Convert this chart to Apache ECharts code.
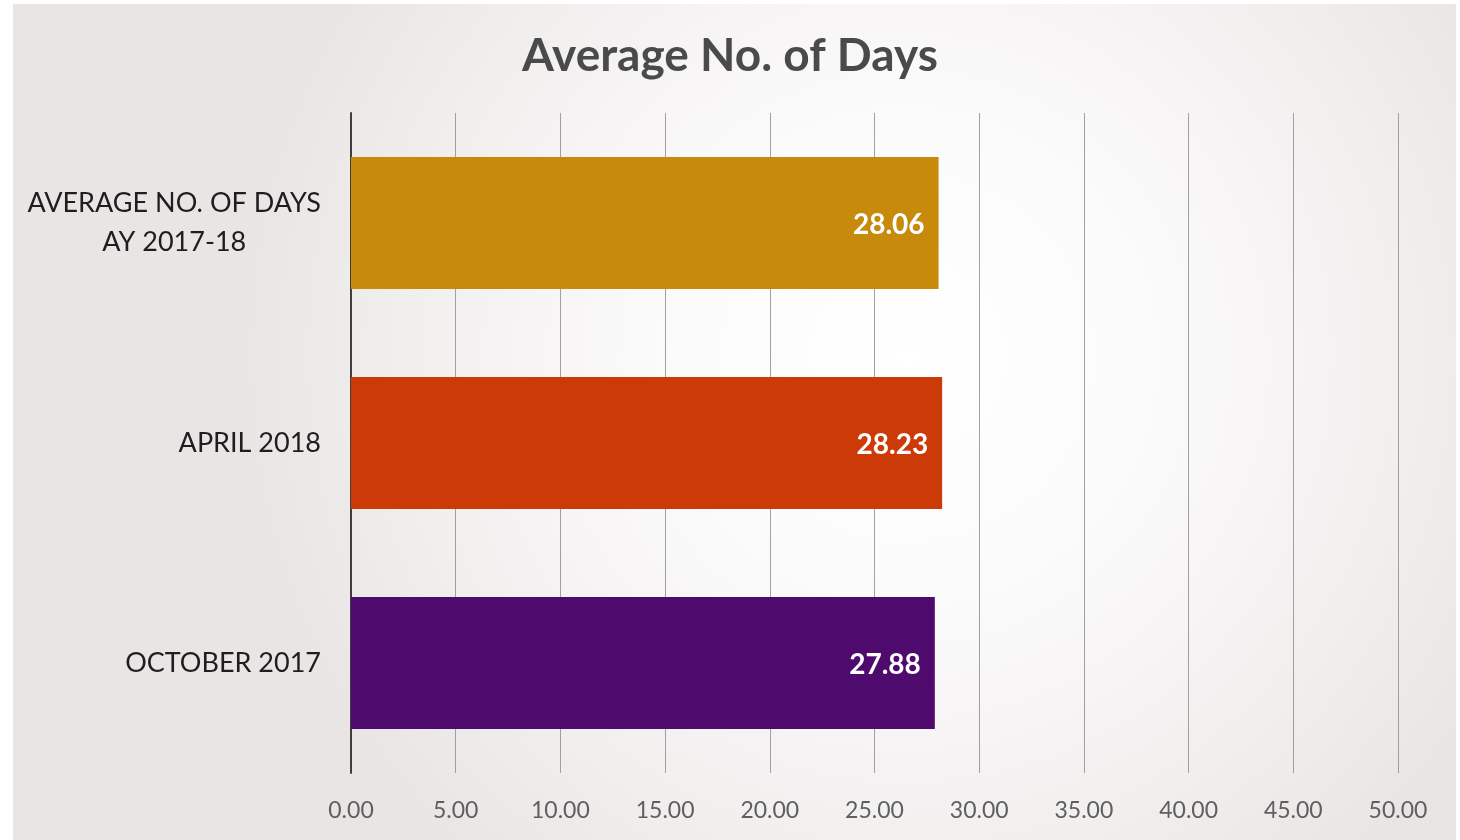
<!DOCTYPE html>
<html>
<head>
<meta charset="utf-8">
<script src="https://cdn.jsdelivr.net/npm/echarts@6/dist/echarts.min.js"></script>
<style>
html,body{margin:0;padding:0;background:#ffffff;}
#chart{width:1460px;height:840px;}
</style>
</head>
<body>
<div id="chart"></div>
<script>
// Data
var categories = ['OCTOBER 2017', 'APRIL 2018', 'AVERAGE NO. OF DAYS\nAY 2017-18'];
var values = [27.88, 28.23, 28.06];
var barColors = ['#4e0a6d', '#cc3a07', '#c78a0b'];
var xTicks = [0, 5, 10, 15, 20, 25, 30, 35, 40, 45, 50];

var FONT = 'Lato';
var catFontSize = 27;

// measure widest line of multi-line labels so lines can be centered
var cv = document.createElement('canvas').getContext('2d');
cv.font = catFontSize + 'px ' + FONT;
var maxLineW = 0;
categories.forEach(function (c) {
  if (c.indexOf('\n') >= 0) {
    c.split('\n').forEach(function (l) { maxLineW = Math.max(maxLineW, cv.measureText(l).width); });
  }
});

var chart = echarts.init(document.getElementById('chart'));
var option = {
  backgroundColor: '#ffffff',
  graphic: [{
    type: 'rect',
    z: -10,
    silent: true,
    shape: { x: 13, y: 4, width: 1443, height: 840 },
    style: {
      fill: {
        type: 'radial', x: 0.62, y: 0.42, r: 0.8,
        colorStops: [
          { offset: 0, color: '#ffffff' },
          { offset: 0.35, color: '#fcfbfb' },
          { offset: 0.75, color: '#f1eeee' },
          { offset: 1, color: '#e9e5e5' }
        ]
      }
    }
  }],
  title: {
    text: 'Average No. of Days',
    left: 'center',
    top: 28,
    textStyle: { fontFamily: FONT, fontWeight: 'bold', fontSize: 46, color: '#4a4a4a' }
  },
  grid: { left: 351, right: 62, top: 113, bottom: 67, containLabel: false },
  xAxis: {
    type: 'value',
    min: 0,
    max: 50,
    interval: 5,
    axisLine: { show: false },
    axisTick: { show: false },
    splitLine: { show: true, lineStyle: { color: '#a0a0a0', width: 1 } },
    axisLabel: {
      margin: 26,
      fontFamily: FONT,
      fontSize: 23,
      color: '#5f5f5f',
      formatter: function (v) { return xTicks.indexOf(v) >= 0 ? v.toFixed(2) : ''; }
    }
  },
  yAxis: {
    type: 'category',
    data: categories,
    axisLine: { show: true, lineStyle: { color: '#3f3f3f', width: 2 } },
    axisTick: { show: false },
    axisLabel: {
      margin: 30,
      fontFamily: FONT,
      fontSize: catFontSize,
      color: '#1e1e1e',
      lineHeight: 39,
      formatter: function (v) {
        if (v.indexOf('\n') >= 0) {
          return v.split('\n').map(function (l) { return '{c|' + l + '}'; }).join('\n');
        }
        return v;
      },
      rich: {
        c: { width: maxLineW, align: 'center', fontFamily: FONT, fontSize: catFontSize, color: '#1e1e1e', lineHeight: 39 }
      }
    }
  },
  series: [{
    type: 'bar',
    data: values.map(function (v, i) { return { value: v, itemStyle: { color: barColors[i] } }; }),
    barWidth: '60%',
    label: {
      show: true,
      position: 'insideRight',
      distance: 14,
      offset: [0, 2],
      fontFamily: FONT,
      fontWeight: 'bold',
      fontSize: 28,
      color: '#ffffff',
      formatter: function (p) { return p.value.toFixed(2); }
    }
  }]
};
chart.setOption(option);
</script>
</body>
</html>
